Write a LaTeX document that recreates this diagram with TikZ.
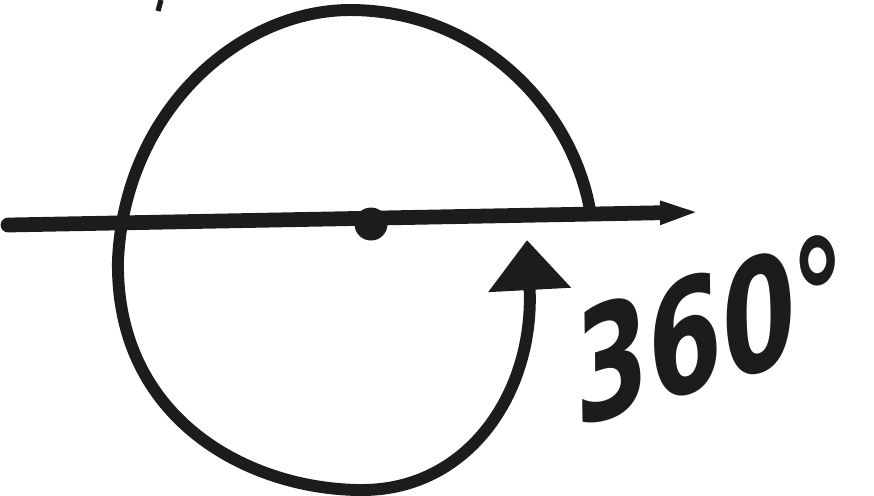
\documentclass[tikz,border=0pt]{standalone}
\usepackage{fontspec}
\usepackage{tikz}
\usetikzlibrary{arrows.meta}
\newfontfamily\sketchfont{DejaVu Sans}
\definecolor{SketchInk}{HTML}{1C1C1C}
\tikzset{
  axisline/.style={draw=SketchInk, line width=4.2pt, line cap=round,
    -{Triangle[length=4mm,width=2.1mm]}},
  turnline/.style={draw=SketchInk, line width=3.4pt,
    -{Triangle[length=5mm,width=8mm]}},
  pivot/.style={circle, fill=SketchInk, inner sep=0pt, minimum size=3.3mm},
  anglelabel/.style={text=SketchInk, font=\sketchfont\bfseries\itshape\fontsize{44}{44}\selectfont,
    inner sep=0pt, xscale=0.7, rotate=12}
}
\begin{document}
\begin{tikzpicture}[x=0.1mm, y=-0.1mm]
  \useasboundingbox (0,0) rectangle (874,495);
  % horizontal axis
  \coordinate (axisL) at (8,225);
  \coordinate (axisR) at (700,212);
  \draw[axisline] (axisL) -- (axisR);
  \node[pivot] (pivot) at (371,224) {};
  % full turn
  \coordinate (turnstart) at (591,216);
  \coordinate (turntop) at (350,10);
  \coordinate (turnleft) at (118,260);
  \coordinate (turnbottom) at (362,490);
  \coordinate (turnend) at (527,240);
  \draw[turnline] (turnstart) .. controls (575,110) and (480,10) .. (turntop)
    .. controls (240,10) and (125,110) .. (turnleft)
    .. controls (115,420) and (250,490) .. (turnbottom)
    .. controls (470,490) and (535,390) .. (turnend);
  % stray pen mark
  \coordinate (markA) at (161,0);
  \coordinate (markB) at (158,11);
  \draw[SketchInk, line width=1.5pt] (markA) -- (markB);
  \node[anglelabel] (angle) at (712,328) {360°};
\end{tikzpicture}
\end{document}
